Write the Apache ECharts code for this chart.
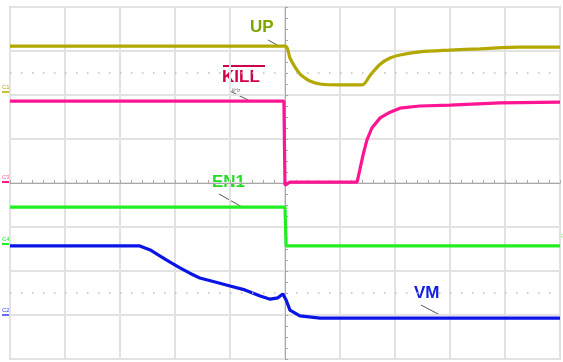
<!DOCTYPE html>
<html>
<head>
<meta charset="utf-8">
<script src="https://cdn.jsdelivr.net/npm/echarts@6/dist/echarts.min.js"></script>
<style>html,body{margin:0;padding:0;background:#fff;}#c{width:563px;height:362px;}</style>
</head>
<body>
<div id="c"></div>
<script>
// Time axis in divisions (-5..5), voltage axis in divisions (-4..4)
var upX   = [-5, 0, 0.09, 0.18, 0.27, 0.36, 0.45, 0.64, 1.0, 1.4, 1.55, 1.73, 1.91, 2.09, 2.45, 3.0, 3.55, 4.27, 5];
var upY   = [3.11, 3.11, 2.84, 2.64, 2.48, 2.39, 2.32, 2.25, 2.23, 2.23, 2.45, 2.70, 2.84, 2.91, 2.98, 3.02, 3.05, 3.09, 3.09];
var killX = [-5, -0.02, 0, 0.09, 1.31, 1.36, 1.42, 1.49, 1.58, 1.73, 1.91, 2.09, 2.45, 3.0, 3.91, 5];
var killY = [1.86, 1.86, -0.05, 0.02, 0.02, 0.30, 0.64, 0.98, 1.25, 1.48, 1.61, 1.70, 1.75, 1.77, 1.82, 1.84];
var en1X  = [-5, 0, 0.02, 5];
var en1Y  = [-0.55, -0.55, -1.43, -1.43];
var vmX   = [-5, -2.64, -2.45, -2.27, -2.09, -1.91, -1.73, -1.55, -1.27, -1.0, -0.73, -0.45, -0.27, -0.13, -0.04, 0.02, 0.09, 0.27, 0.64, 5];
var vmY   = [-1.43, -1.43, -1.52, -1.66, -1.80, -1.93, -2.05, -2.16, -2.25, -2.34, -2.43, -2.57, -2.64, -2.61, -2.52, -2.66, -2.89, -3.02, -3.07, -3.07];
var labels = ['UP', 'KILL', 'EN1', 'VM'];

function pairs(xs, ys){ return xs.map(function(x,i){ return [x, ys[i]]; }); }

var chart = echarts.init(document.getElementById('c'), null, {renderer:'canvas'});
var lineW = 3.2;
chart.setOption({
  animation: false,
  backgroundColor: '#ffffff',
  grid: {left: 10, top: 7, width: 550, height: 352, show: true, borderColor: '#dcdcdc', borderWidth: 2},
  xAxis: {
    type: 'value', min: -5, max: 5, interval: 1,
    axisLine: {show: true, onZero: true, lineStyle: {color: '#a8a8a8', width: 1}},
    axisTick: {show: true, length: 3, inside: true, lineStyle: {color: '#a8a8a8'}},
    minorTick: {show: true, splitNumber: 5, length: 3, lineStyle: {color: '#a8a8a8'}},
    axisLabel: {show: false},
    splitLine: {show: true, lineStyle: {color: '#e2e2e2', width: 2}}
  },
  yAxis: {
    type: 'value', min: -4, max: 4, interval: 1,
    axisLine: {show: true, onZero: true, lineStyle: {color: '#a8a8a8', width: 1}},
    axisTick: {show: true, length: 3, inside: true, lineStyle: {color: '#a8a8a8'}},
    minorTick: {show: true, splitNumber: 4, length: 3, lineStyle: {color: '#a8a8a8'}},
    axisLabel: {show: false},
    splitLine: {show: true, lineStyle: {color: '#e2e2e2', width: 2}}
  },
  series: [
    {name: labels[0], type: 'line', data: pairs(upX, upY), showSymbol: false, smooth: 0.3,
     lineStyle: {color: '#b2a800', width: lineW},
     markLine: {silent: true, symbol: 'none', label: {show: false},
       lineStyle: {color: '#bdbdbd', type: [1.5, 9.5], width: 1.5},
       data: [{yAxis: 2.5}, {yAxis: -2.5}]}},
    {name: labels[1], type: 'line', data: pairs(killX, killY), showSymbol: false,
     lineStyle: {color: '#ff1493', width: lineW}},
    {name: labels[2], type: 'line', data: pairs(en1X, en1Y), showSymbol: false,
     lineStyle: {color: '#22ee22', width: lineW}},
    {name: labels[3], type: 'line', data: pairs(vmX, vmY), showSymbol: false,
     lineStyle: {color: '#0a14e6', width: lineW}}
  ],
  graphic: [
    {type: 'text', left: 250, top: 19, style: {text: labels[0], font: 'bold 17px "Liberation Sans", Arial', fill: '#7fa400'}},
    {type: 'line', shape: {x1: 268, y1: 40, x2: 279, y2: 46}, style: {stroke: '#555', lineWidth: 1}},
    {type: 'text', left: 222, top: 69, style: {text: labels[1], font: 'bold 17px "Liberation Sans", Arial', fill: '#d1004b'}},
    {type: 'line', shape: {x1: 223, y1: 66, x2: 265, y2: 66}, style: {stroke: '#d1004b', lineWidth: 2}},
    {type: 'line', shape: {x1: 230, y1: 91, x2: 252, y2: 102}, style: {stroke: '#555', lineWidth: 1}},
    {type: 'text', left: 229, top: 88, style: {text: '1kHz', font: '5px "Liberation Sans"', fill: '#777'}},
    {type: 'text', left: 212, top: 174, style: {text: labels[2], font: 'bold 17px "Liberation Sans", Arial', fill: '#22dd22'}},
    {type: 'line', shape: {x1: 219, y1: 194, x2: 242, y2: 207}, style: {stroke: '#555', lineWidth: 1}},
    {type: 'text', left: 414, top: 285, style: {text: labels[3], font: 'bold 17px "Liberation Sans", Arial', fill: '#1020e0'}},
    {type: 'line', shape: {x1: 421, y1: 305, x2: 440, y2: 315}, style: {stroke: '#555', lineWidth: 1}},
    {type: 'text', left: 2, top: 84, style: {text: 'C1', font: '6px "Liberation Sans"', fill: '#b2a800'}},
    {type: 'line', shape: {x1: 2, y1: 92, x2: 9, y2: 92}, style: {stroke: '#b2a800', lineWidth: 1.5}},
    {type: 'text', left: 2, top: 174, style: {text: 'C3', font: '6px "Liberation Sans"', fill: '#ff5fa8'}},
    {type: 'line', shape: {x1: 2, y1: 182, x2: 9, y2: 182}, style: {stroke: '#ff1493', lineWidth: 2}},
    {type: 'text', left: 2, top: 236, style: {text: 'C4', font: '6px "Liberation Sans"', fill: '#22ee22'}},
    {type: 'line', shape: {x1: 2, y1: 244, x2: 9, y2: 244}, style: {stroke: '#22ee22', lineWidth: 2}},
    {type: 'text', left: 2, top: 307, style: {text: 'C2', font: '6px "Liberation Sans"', fill: '#3040ff'}},
    {type: 'line', shape: {x1: 2, y1: 315, x2: 9, y2: 315}, style: {stroke: '#3040ff', lineWidth: 1.5}},
    {type: 'text', left: 559, top: 233, style: {text: '<', font: '7px "Liberation Sans"', fill: '#22ee22'}}
  ]
});
</script>
</body>
</html>
